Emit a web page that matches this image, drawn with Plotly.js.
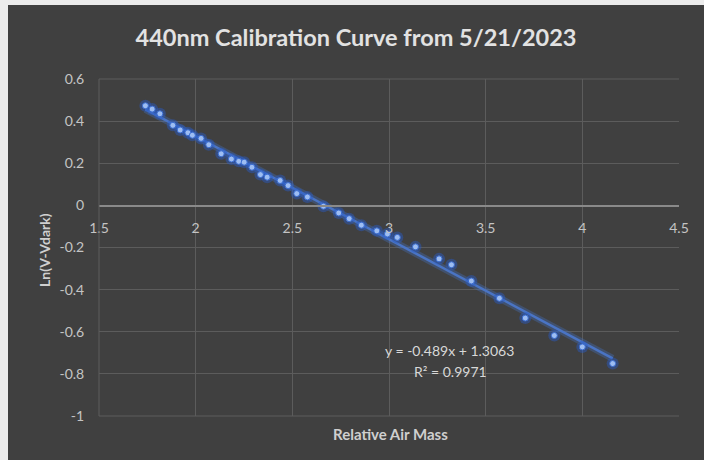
<!DOCTYPE html>
<html>
<head>
<meta charset="utf-8">
<script src="https://cdn.plot.ly/plotly-3.0.1.min.js"></script>
<style>
  html, body { margin: 0; padding: 0; background: #ececec; width: 704px; height: 460px; overflow: hidden; }
  #chart { position: absolute; left: 8px; top: 5px; width: 696px; height: 455px; }
</style>
</head>
<body>
<div id="chart"></div>
<script>
// Data
const airMass = [1.740, 1.775, 1.815, 1.882, 1.920, 1.960, 1.983, 2.028, 2.068, 2.132,
                 2.185, 2.223, 2.251, 2.291, 2.335, 2.370, 2.437, 2.478, 2.523, 2.578,
                 2.661, 2.740, 2.794, 2.857, 2.937, 2.992, 3.043, 3.137, 3.259, 3.323,
                 3.426, 3.571, 3.705, 3.855, 4.000, 4.157];
const lnV = [0.473, 0.457, 0.435, 0.380, 0.358, 0.345, 0.333, 0.318, 0.288, 0.245,
             0.220, 0.209, 0.205, 0.181, 0.146, 0.134, 0.118, 0.094, 0.056, 0.040,
             -0.004, -0.036, -0.063, -0.094, -0.121, -0.136, -0.152, -0.197, -0.254, -0.282,
             -0.359, -0.441, -0.535, -0.618, -0.672, -0.751];

// Linear trendline as displayed on the chart
const slope = -0.489;
const intercept = 1.3063;
const rSquared = 0.9971;

const titleText = '440nm Calibration Curve from 5/21/2023';
const xTitle = 'Relative Air Mass';
const yTitle = 'Ln(V-Vdark)';
const xTicks = [1.5, 2, 2.5, 3, 3.5, 4, 4.5];
const yTicks = [0.6, 0.4, 0.2, 0, -0.2, -0.4, -0.6, -0.8, -1];

const xMin = Math.min(...airMass), xMax = Math.max(...airMass);
const trendX = [xMin, xMax];
const trendY = trendX.map(x => slope * x + intercept);

const FONT = 'Lato, "Open Sans", sans-serif';

const traces = [
  { x: trendX, y: trendY, mode: 'lines', line: { color: 'rgba(68,114,196,0.35)', width: 7 }, hoverinfo: 'skip', showlegend: false },
  { x: trendX, y: trendY, mode: 'lines', line: { color: '#4a74c4', width: 2.5 }, showlegend: false },
  { x: airMass, y: lnV, mode: 'markers', marker: { size: 12, color: 'rgba(40,90,200,0.45)' }, hoverinfo: 'skip', showlegend: false },
  { x: airMass, y: lnV, mode: 'markers', marker: { size: 6, color: '#9dbdf2', line: { color: '#3a6cd0', width: 1 } }, showlegend: false }
];

const layout = {
  width: 696, height: 455,
  paper_bgcolor: '#404040',
  plot_bgcolor: '#404040',
  margin: { l: 91, r: 25, t: 74, b: 43.5 },
  font: { family: FONT, color: '#c4c4c4', size: 14 },
  title: { text: titleText, x: 0.5, xanchor: 'center', y: 1 - 33 / 455, yanchor: 'middle',
           font: { family: FONT, size: 23.5, color: '#e2e2e2', weight: 'bold' } },
  xaxis: {
    range: [1.5, 4.5], tickvals: xTicks, ticktext: xTicks.map(String),
    anchor: 'free', position: 0.625,
    showgrid: true, gridcolor: '#5c5c5c', gridwidth: 1,
    zeroline: false, showline: true, linecolor: '#8a8a8a', linewidth: 1.5,
    ticks: 'outside', ticklen: 9, tickcolor: 'rgba(0,0,0,0)', tickfont: { size: 14, color: '#c4c4c4' },
    title: { text: '' }
  },
  yaxis: {
    range: [-1, 0.6], tickvals: yTicks, ticktext: yTicks.map(String),
    showgrid: true, gridcolor: '#5c5c5c', gridwidth: 1,
    zeroline: false, showline: false, ticks: 'outside', ticklen: 11, tickcolor: 'rgba(0,0,0,0)',
    tickfont: { size: 14, color: '#c4c4c4' },
    title: { text: '' }
  },
  shapes: [
    { type: 'line', xref: 'paper', yref: 'paper', x0: 0, x1: 0, y0: 0, y1: 1, line: { color: '#5c5c5c', width: 1 } },
    { type: 'line', xref: 'paper', yref: 'paper', x0: 0, x1: 1, y0: 1, y1: 1, line: { color: '#5c5c5c', width: 1 } },
    { type: 'line', xref: 'paper', yref: 'paper', x0: 0, x1: 1, y0: 0, y1: 0, line: { color: '#5c5c5c', width: 1 } }
  ],
  annotations: [
    { text: '<b>' + xTitle + '</b>', xref: 'paper', yref: 'paper', x: 0.502, y: -0.052, xanchor: 'center', yanchor: 'middle',
      showarrow: false, font: { family: FONT, size: 15, color: '#cfcfcf' } },
    { text: '<b>' + yTitle + '</b>', xref: 'paper', yref: 'paper', x: -0.093, y: 0.493, xanchor: 'center', yanchor: 'middle',
      textangle: -90, showarrow: false, font: { family: FONT, size: 14, color: '#cfcfcf' } },
    { text: 'y = ' + slope + 'x + ' + intercept, xref: 'x', yref: 'y',
      x: 3.311, y: -0.690, xanchor: 'center', yanchor: 'middle', showarrow: false,
      font: { family: FONT, size: 14, color: '#d8d8d8' } },
    { text: 'R² = ' + rSquared, xref: 'x', yref: 'y',
      x: 3.316, y: -0.789, xanchor: 'center', yanchor: 'middle', showarrow: false,
      font: { family: FONT, size: 14, color: '#d8d8d8' } }
  ]
};

Plotly.newPlot('chart', traces, layout, { displayModeBar: false, staticPlot: true });
</script>
</body>
</html>
